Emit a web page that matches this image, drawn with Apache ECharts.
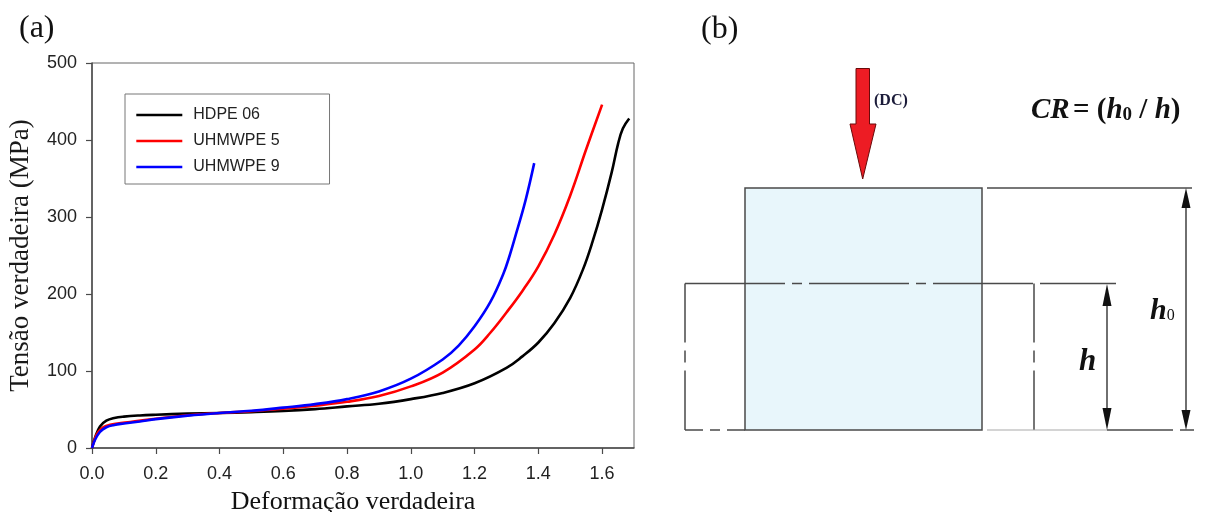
<!DOCTYPE html>
<html>
<head>
<meta charset="utf-8">
<script src="https://cdn.jsdelivr.net/npm/echarts@6/dist/echarts.min.js"></script>
<style>
  html, body { margin: 0; padding: 0; background: #fff; }
  #chart { width: 1205px; height: 512px; }
</style>
</head>
<body>
<div id="chart"></div>
<script>
// true strain / true stress (MPa)
const hdpeStrain = [0, 0.01, 0.025, 0.045, 0.07, 0.1, 0.15, 0.2, 0.3, 0.4, 0.5, 0.6, 0.7, 0.8, 0.9, 1.0, 1.1, 1.2, 1.3, 1.35, 1.4, 1.45, 1.5, 1.54, 1.57, 1.6, 1.63, 1.65, 1.665, 1.685];
const hdpeStress = [0, 14, 28, 35.5, 39, 40.8, 42.3, 43.2, 44.6, 45.5, 46.5, 48, 50.5, 54, 57.5, 63.5, 71.5, 84, 104, 119, 137, 162, 195, 232, 268, 310, 358, 395, 415, 428];

const uh5Strain = [0, 0.01, 0.02, 0.036, 0.057, 0.08, 0.12, 0.2, 0.3, 0.4, 0.5, 0.6, 0.7, 0.8, 0.9, 1.0, 1.1, 1.2, 1.25, 1.3, 1.35, 1.4, 1.45, 1.5, 1.55, 1.6];
const uh5Stress = [0, 13, 21, 27, 30.2, 31.8, 33.8, 38, 42.5, 45.5, 47.8, 51, 55, 60, 67.5, 80, 98, 128, 150, 176, 204, 236, 277, 328, 388, 446];

const uh9Strain = [0, 0.01, 0.025, 0.045, 0.07, 0.1, 0.15, 0.2, 0.3, 0.4, 0.5, 0.6, 0.7, 0.8, 0.9, 1.0, 1.1, 1.15, 1.2, 1.25, 1.29, 1.31, 1.33, 1.36, 1.387];
const uh9Stress = [0, 11, 21, 27, 30, 31.8, 34.5, 37.5, 42, 45.5, 48.3, 52.4, 57, 63.5, 73.5, 90, 115, 133, 158, 190, 226, 250, 278, 322, 370];

const xTicks = [0, 0.2, 0.4, 0.6, 0.8, 1.0, 1.2, 1.4, 1.6];
const yTicks = [0, 100, 200, 300, 400, 500];

const pair = (xs, ys) => xs.map((x, i) => [x, ys[i]]);

const serif = 'Liberation Serif';
const sans = 'Liberation Sans';
const ink = '#4a4a4a';

var myChart = echarts.init(document.getElementById('chart'));

const lineSeries = (name, color, xs, ys) => ({
  name: name,
  type: 'line',
  data: pair(xs, ys),
  showSymbol: false,
  symbol: 'none',
  smooth: 0.4,
  lineStyle: { color: color, width: 2.6 },
  itemStyle: { color: color }
});

// panel (b): schematic of the compression ratio
const diagram = [
  { type: 'text', left: 19, top: 13, style: { text: '(a)', font: '32px ' + serif, fill: '#111' } },
  { type: 'text', left: 701, top: 14, style: { text: '(b)', font: '32px ' + serif, fill: '#111' } },
  // sample before compression
  { type: 'rect', shape: { x: 745, y: 188, width: 237, height: 242 },
    style: { fill: '#e8f6fb', stroke: ink, lineWidth: 1.5 } },
  { type: 'line', shape: { x1: 987, y1: 188, x2: 1192, y2: 188 }, style: { stroke: ink, lineWidth: 1.5 } },
  // compressed outline (center-line dashes)
  { type: 'line', shape: { x1: 685, y1: 283.5, x2: 1034, y2: 283.5 },
    style: { stroke: ink, lineWidth: 1.5, lineDash: [100, 7, 10, 7] } },
  { type: 'line', shape: { x1: 1040, y1: 283.5, x2: 1116, y2: 283.5 }, style: { stroke: ink, lineWidth: 1.5 } },
  { type: 'line', shape: { x1: 685, y1: 283.5, x2: 685, y2: 430 },
    style: { stroke: ink, lineWidth: 1.5, lineDash: [59, 8, 12, 8, 70] } },
  { type: 'line', shape: { x1: 1034, y1: 283.5, x2: 1034, y2: 430 },
    style: { stroke: ink, lineWidth: 1.5, lineDash: [59, 8, 12, 8, 70] } },
  { type: 'line', shape: { x1: 685, y1: 430, x2: 745, y2: 430 },
    style: { stroke: ink, lineWidth: 1.5, lineDash: [18, 7, 10, 7, 30] } },
  { type: 'line', shape: { x1: 987, y1: 430, x2: 1107, y2: 430 }, style: { stroke: '#aaa', lineWidth: 1.2 } },
  { type: 'line', shape: { x1: 1107, y1: 430, x2: 1173, y2: 430 }, style: { stroke: ink, lineWidth: 1.5 } },
  { type: 'line', shape: { x1: 1180, y1: 430, x2: 1194, y2: 430 }, style: { stroke: ink, lineWidth: 1.5 } },
  // h0 dimension arrow
  { type: 'line', shape: { x1: 1186, y1: 196, x2: 1186, y2: 422 }, style: { stroke: '#222', lineWidth: 1.3 } },
  { type: 'polygon', shape: { points: [[1186, 188], [1181.5, 208], [1190.5, 208]] }, style: { fill: '#111' } },
  { type: 'polygon', shape: { points: [[1186, 430], [1181.5, 410], [1190.5, 410]] }, style: { fill: '#111' } },
  // h dimension arrow
  { type: 'line', shape: { x1: 1107, y1: 292, x2: 1107, y2: 422 }, style: { stroke: '#222', lineWidth: 1.3 } },
  { type: 'polygon', shape: { points: [[1107, 284], [1102.5, 306], [1111.5, 306]] }, style: { fill: '#111' } },
  { type: 'polygon', shape: { points: [[1107, 430], [1102.5, 408], [1111.5, 408]] }, style: { fill: '#111' } },
  // load arrow
  { type: 'polygon',
    shape: { points: [[856, 68.5], [869.5, 68.5], [869.5, 124], [876, 124], [862.7, 179], [850, 124], [856, 124]] },
    style: { fill: '#ed1c24', stroke: '#6a0a0a', lineWidth: 1 } },
  { type: 'text', left: 874, top: 93, style: { text: '(DC)', font: 'bold 16px ' + serif, fill: '#1c1c3a' } },
  { type: 'text', left: 1031, top: 96, style: {
      text: '{i|CR} {n|= (}{i|h}{s|0}{n| / }{i|h}{n|)}',
      rich: {
        i: { font: 'italic bold 29px ' + serif, fill: '#111' },
        n: { font: 'bold 29px ' + serif, fill: '#111' },
        s: { font: 'bold 19px ' + serif, fill: '#111', padding: [10, 0, 0, 0] }
      } } },
  { type: 'text', left: 1150, top: 296, style: {
      text: '{i|h}{s|0}',
      rich: {
        i: { font: 'italic bold 30px ' + serif, fill: '#111' },
        s: { font: '16px ' + serif, fill: '#111', padding: [10, 0, 0, 0] }
      } } },
  { type: 'text', left: 1079, top: 346, style: { text: 'h', font: 'italic bold 31px ' + serif, fill: '#111' } }
];

myChart.setOption({
  animation: false,
  backgroundColor: '#fff',
  grid: {
    left: 92, top: 63, right: 571, bottom: 64,
    outerBoundsMode: 'none',
    containLabel: false,
    show: true, borderColor: '#666', borderWidth: 1
  },
  legend: {
    orient: 'vertical',
    left: 125, top: 94,
    padding: [13, 50, 9, 10],
    itemWidth: 46, itemHeight: 14, itemGap: 10,
    borderColor: '#777', borderWidth: 1,
    itemStyle: { opacity: 0 },
    lineStyle: { width: 2.6 },
    textStyle: { fontFamily: sans, fontSize: 16, color: '#222', padding: [0, 0, 0, 6] },
    data: ['HDPE 06', 'UHMWPE 5', 'UHMWPE 9']
  },
  xAxis: {
    type: 'value',
    min: 0, max: 1.7, interval: 0.2,
    name: 'Deformação verdadeira',
    nameLocation: 'middle',
    nameGap: 41,
    nameTextStyle: { fontFamily: serif, fontSize: 26, color: '#111', padding: [0, 20, 0, 0] },
    splitLine: { show: false },
    axisLine: { lineStyle: { color: ink, width: 1.5 } },
    axisTick: { length: 6, lineStyle: { color: ink, width: 1.2 }, customValues: xTicks },
    axisLabel: {
      customValues: xTicks,
      margin: 17,
      fontFamily: sans, fontSize: 18, color: '#222',
      formatter: v => v.toFixed(1)
    }
  },
  yAxis: {
    type: 'value',
    min: 0, max: 500, interval: 100,
    name: 'Tensão verdadeira (MPa)',
    nameLocation: 'middle',
    nameGap: 58,
    nameTextStyle: { fontFamily: serif, fontSize: 27, color: '#1a1a1a' },
    splitLine: { show: false },
    axisLine: { show: true, lineStyle: { color: ink, width: 1.5 } },
    axisTick: { show: true, length: 6, lineStyle: { color: ink, width: 1.2 }, customValues: yTicks },
    axisLabel: { customValues: yTicks, margin: 15, fontFamily: sans, fontSize: 18, color: '#222' }
  },
  series: [
    lineSeries('HDPE 06', '#000000', hdpeStrain, hdpeStress),
    lineSeries('UHMWPE 5', '#ff0000', uh5Strain, uh5Stress),
    lineSeries('UHMWPE 9', '#0000ff', uh9Strain, uh9Stress)
  ],
  graphic: diagram
});
</script>
</body>
</html>
